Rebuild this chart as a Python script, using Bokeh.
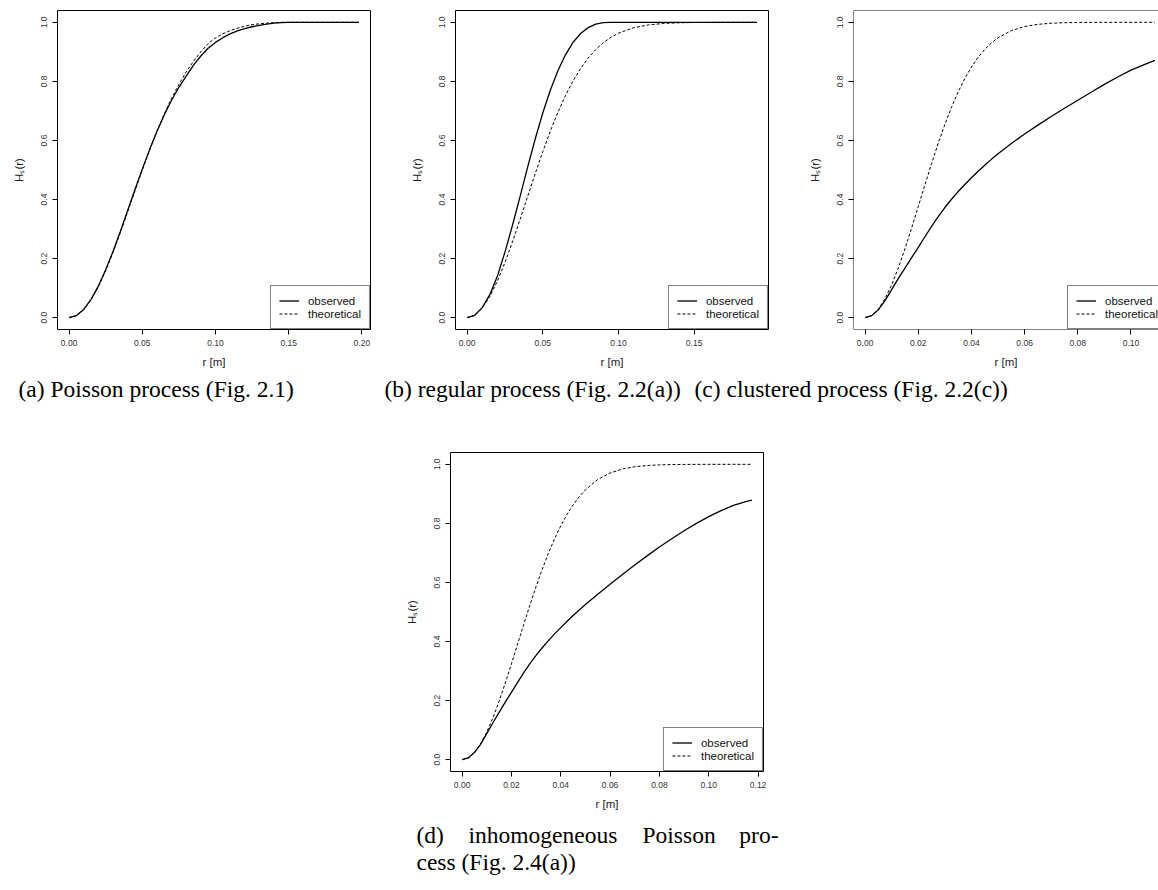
from bokeh.plotting import figure
from bokeh.models import Range1d, FixedTicker, PrintfTickFormatter, Span, Label, Spacer
from bokeh.layouts import column, row
from bokeh.embed import file_html
from bokeh.resources import INLINE

# ---------------------------------------------------------------- data
# (a) Poisson process
r_a = [0, 0.005, 0.01, 0.015, 0.02, 0.025, 0.03, 0.035, 0.04, 0.045, 0.05,
       0.055, 0.06, 0.065, 0.07, 0.075, 0.08, 0.085, 0.09, 0.095, 0.10,
       0.105, 0.11, 0.115, 0.12, 0.125, 0.13, 0.135, 0.14, 0.145, 0.15,
       0.16, 0.17, 0.18, 0.19, 0.198]
obs_a = [0, 0.007, 0.028, 0.062, 0.107, 0.162, 0.224, 0.292, 0.363, 0.434, 0.503,
         0.569, 0.630, 0.686, 0.736, 0.780, 0.818, 0.855, 0.886, 0.912, 0.932,
         0.948, 0.961, 0.971, 0.979, 0.985, 0.990, 0.994, 0.997, 0.999, 1.0,
         1.0, 1.0, 1.0, 1.0, 1.0]
theo_a = [0, 0.0069, 0.0273, 0.0604, 0.1049, 0.1590, 0.2206, 0.2878, 0.3580, 0.4293, 0.4997,
          0.5674, 0.6311, 0.6897, 0.7426, 0.7895, 0.832, 0.868, 0.900, 0.928, 0.947,
          0.961, 0.972, 0.980, 0.987, 0.992, 0.995, 0.997, 0.999, 1.0, 1.0,
          1.0, 1.0, 1.0, 1.0, 1.0]

# (b) regular process
r_b = [0, 0.005, 0.01, 0.015, 0.02, 0.025, 0.03, 0.035, 0.04, 0.045, 0.05,
       0.055, 0.06, 0.065, 0.07, 0.075, 0.08, 0.085, 0.09, 0.095, 0.10,
       0.11, 0.12, 0.13, 0.14, 0.15, 0.16, 0.17, 0.18, 0.1915]
obs_b = [0, 0.008, 0.034, 0.078, 0.140, 0.222, 0.313, 0.410, 0.510, 0.605, 0.693,
         0.770, 0.836, 0.890, 0.932, 0.962, 0.982, 0.994, 0.999, 1.0, 1.0,
         1.0, 1.0, 1.0, 1.0, 1.0, 1.0, 1.0, 1.0, 1.0]
theo_b = [0, 0.0082, 0.0325, 0.0716, 0.1237, 0.1864, 0.2570, 0.3325, 0.4102, 0.4874, 0.5618,
          0.6315, 0.6952, 0.7520, 0.8015, 0.8437, 0.8790, 0.9078, 0.9310, 0.9491, 0.9631,
          0.9816, 0.9914, 0.9962, 0.9984, 0.9994, 0.9998, 1.0, 1.0, 1.0]

# (c) clustered process
r_c = [0, 0.0025, 0.005, 0.0075, 0.01, 0.0125, 0.015, 0.0175, 0.02, 0.0225, 0.025,
       0.0275, 0.03, 0.0325, 0.035, 0.0375, 0.04, 0.0425, 0.045, 0.0475, 0.05,
       0.055, 0.06, 0.065, 0.07, 0.075, 0.08, 0.085, 0.09, 0.095, 0.10, 0.105, 0.109]
obs_c = [0, 0.007, 0.027, 0.058, 0.095, 0.133, 0.168, 0.203, 0.238, 0.274, 0.309,
         0.342, 0.373, 0.401, 0.427, 0.451, 0.474, 0.496, 0.516, 0.536, 0.555,
         0.590, 0.622, 0.652, 0.681, 0.709, 0.736, 0.763, 0.790, 0.815, 0.838, 0.857, 0.871]
theo_c = [0, 0.0073, 0.0291, 0.0642, 0.1113, 0.1684, 0.2332, 0.3033, 0.3762, 0.4497, 0.5217,
          0.5903, 0.6542, 0.7125, 0.7644, 0.8097, 0.8486, 0.8813, 0.9084, 0.9302, 0.9477,
          0.9718, 0.9857, 0.9932, 0.9969, 0.9987, 0.9995, 0.9998, 0.9999, 1.0, 1.0, 1.0, 1.0]

# (d) inhomogeneous Poisson process
r_d = [0, 0.0025, 0.005, 0.0075, 0.01, 0.0125, 0.015, 0.0175, 0.02, 0.0225, 0.025,
       0.0275, 0.03, 0.0325, 0.035, 0.0375, 0.04, 0.0425, 0.045, 0.0475, 0.05,
       0.055, 0.06, 0.065, 0.07, 0.075, 0.08, 0.085, 0.09, 0.095, 0.10, 0.105,
       0.11, 0.115, 0.1175]
obs_d = [0, 0.006, 0.024, 0.052, 0.088, 0.125, 0.160, 0.195, 0.228, 0.262, 0.295,
         0.325, 0.353, 0.379, 0.403, 0.426, 0.447, 0.468, 0.488, 0.507, 0.525,
         0.560, 0.594, 0.627, 0.659, 0.690, 0.720, 0.748, 0.775, 0.800, 0.823, 0.843,
         0.861, 0.874, 0.879]
theo_d = [0, 0.0061, 0.0242, 0.0536, 0.0934, 0.1420, 0.1979, 0.2593, 0.3243, 0.3911, 0.4580,
          0.5234, 0.5860, 0.6448, 0.6990, 0.7480, 0.7915, 0.8297, 0.8626, 0.8904, 0.9137,
          0.9484, 0.9706, 0.9841, 0.9918, 0.9960, 0.9981, 0.9991, 0.9996, 0.9998, 0.9999, 1.0,
          1.0, 1.0, 1.0]

# tick positions
x_ticks_a = [0.0, 0.05, 0.10, 0.15, 0.20]
x_ticks_b = [0.0, 0.05, 0.10, 0.15]
x_ticks_c = [0.0, 0.02, 0.04, 0.06, 0.08, 0.10]
x_ticks_d = [0.0, 0.02, 0.04, 0.06, 0.08, 0.10, 0.12]
y_ticks = [0.0, 0.2, 0.4, 0.6, 0.8, 1.0]

series_names = ["observed", "theoretical"]
x_label = "r [m]"
y_label = "H\u209b(r)"

captions_top = ["(a) Poisson process (Fig. 2.1)",
                "(b) regular process (Fig. 2.2(a))",
                "(c) clustered process (Fig. 2.2(c))"]
caption_d_words = ["(d)", "inhomogeneous", "Poisson", "pro-"]
caption_d_line2 = "cess (Fig. 2.4(a))"

# ---------------------------------------------------------------- styling
SANS = "Liberation Sans"
SERIF = "Liberation Serif"
FRAME_W = 313
FRAME_H = 319


def panel(r, obs, theo, xticks, frame_w=FRAME_W, border_right=28, border_top=10,
          open_right=False, legend_x=None):
    rmax = max(r)
    x0 = -0.04 * rmax
    x1 = rmax + 0.04 * rmax
    # a panel running off the page edge keeps the same scale as a full one
    x1 = x0 + (x1 - x0) * frame_w / FRAME_W
    p = figure(frame_width=frame_w, frame_height=FRAME_H,
               min_border_left=57, min_border_right=border_right,
               min_border_top=border_top, min_border_bottom=40,
               x_range=Range1d(x0, x1), y_range=Range1d(-0.04, 1.04),
               output_backend="svg", toolbar_location=None,
               background_fill_color="white", border_fill_color="white")
    p.grid.visible = False
    p.xaxis.ticker = FixedTicker(ticks=xticks)
    p.yaxis.ticker = FixedTicker(ticks=y_ticks)
    p.xaxis.formatter = PrintfTickFormatter(format="%.2f")
    p.yaxis.formatter = PrintfTickFormatter(format="%.1f")
    p.xaxis.axis_label = x_label
    p.yaxis.axis_label = y_label
    p.axis.axis_line_color = None
    p.axis.major_tick_in = 0
    p.axis.major_tick_out = 5
    p.axis.major_tick_line_color = "black"
    p.axis.minor_tick_line_color = None
    p.axis.major_label_text_font = SANS
    p.axis.major_label_text_font_size = "8.5px"
    p.axis.major_label_text_color = "#333333"
    p.axis.major_label_standoff = 5
    p.axis.axis_label_text_font = SANS
    p.axis.axis_label_text_font_size = "11.5px"
    p.axis.axis_label_text_font_style = "normal"
    p.axis.axis_label_text_color = "#222222"
    p.xaxis.axis_label_standoff = 7
    p.yaxis.axis_label_standoff = 14
    p.yaxis.major_label_orientation = "vertical"

    if open_right:
        p.outline_line_color = None
        for loc, dim in ((x0, "height"), (-0.04, "width"), (1.04, "width")):
            p.add_layout(Span(location=loc, dimension=dim,
                              line_color="black", line_width=1))
    else:
        p.outline_line_color = "black"
        p.outline_line_width = 1

    p.line(r, obs, line_color="black", line_width=1.3, legend_label=series_names[0])
    p.line(r, theo, line_color="black", line_width=1.0, line_dash="3 2",
           legend_label=series_names[1])

    lg = p.legend[0]
    lg.location = "bottom_right" if legend_x is None else (legend_x, 0)
    lg.margin = 0
    lg.padding = 8
    lg.spacing = 0
    lg.glyph_width = 20
    lg.glyph_height = 13
    lg.label_height = 13
    lg.label_standoff = 9
    lg.label_text_font = SANS
    lg.label_text_font_size = "11.5px"
    lg.label_text_color = "#111111"
    lg.border_line_color = "black"
    lg.border_line_width = 1
    lg.background_fill_color = "white"
    lg.background_fill_alpha = 1.0
    return p


def caption_strip(height, items):
    c = figure(width=1158, height=height, x_range=Range1d(0, 1158),
               y_range=Range1d(0, height), x_axis_type=None, y_axis_type=None,
               min_border=0, output_backend="svg", toolbar_location=None,
               outline_line_color=None, background_fill_color="white",
               border_fill_color="white")
    c.grid.visible = False
    for x, y, txt, align in items:
        c.add_layout(Label(x=x, y=y, x_units="screen", y_units="screen", text=txt,
                           text_font=SERIF, text_font_size="23.5px",
                           text_color="black", text_align=align,
                           text_baseline="alphabetic"))
    return c


p_a = panel(r_a, obs_a, theo_a, x_ticks_a)
p_b = panel(r_b, obs_b, theo_b, x_ticks_b)
p_c = panel(r_c, obs_c, theo_c, x_ticks_c, frame_w=305, border_right=0,
            open_right=True, legend_x=214)
p_d = panel(r_d, obs_d, theo_d, x_ticks_d, border_top=22)

cap_top = caption_strip(60, [(18, 42, captions_top[0], "left"),
                             (384, 42, captions_top[1], "left"),
                             (694, 42, captions_top[2], "left")])
cap_bottom = caption_strip(79, [(416, 57, caption_d_words[0], "left"),
                                (468, 57, caption_d_words[1], "left"),
                                (642, 57, caption_d_words[2], "left"),
                                (778, 57, caption_d_words[3], "right"),
                                (416, 30, caption_d_line2, "left")])

layout = column(row(p_a, p_b, p_c),
                cap_top,
                row(Spacer(width=393, height=381), p_d),
                cap_bottom)

open("out.html", "w").write(file_html(layout, INLINE))
